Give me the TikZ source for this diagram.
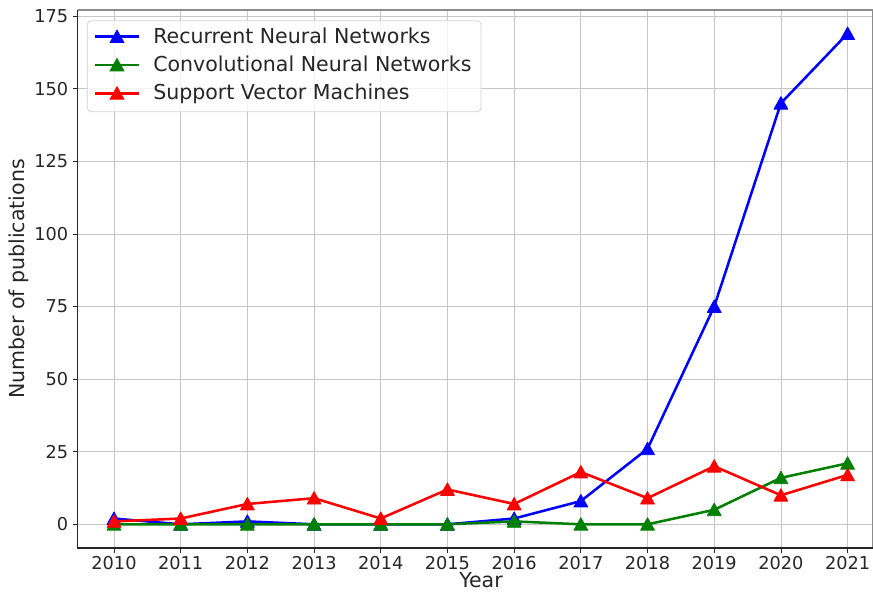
\documentclass[tikz,border=0pt]{standalone}
\usepackage{fontspec}
\setmainfont{DejaVu Sans}
\definecolor{rnn}{RGB}{0,0,255}
\definecolor{cnn}{RGB}{0,128,0}
\definecolor{svm}{RGB}{255,0,0}
\definecolor{txt}{RGB}{38,38,38}
\pgfdeclareplotmark{mtri}{%
  \pgfpathmoveto{\pgfqpoint{0pt}{0.95\pgfplotmarksize}}%
  \pgfpathlineto{\pgfqpoint{-\pgfplotmarksize}{-0.85\pgfplotmarksize}}%
  \pgfpathlineto{\pgfqpoint{\pgfplotmarksize}{-0.85\pgfplotmarksize}}%
  \pgfpathclose\pgfusepathqfillstroke}
\tikzset{
  gridline/.style={draw=black!22, line width=0.6pt},
  series/.style={draw=#1, line width=1.9pt, line join=round, mark=mtri, mark size=5.2pt,
    mark options={solid, fill=#1, draw=#1, line width=0.6pt}},
  legline/.style={draw=#1, line width=1.9pt},
  legmark/.style={draw=none, mark=mtri, mark size=5.2pt, mark options={fill=#1, draw=#1, line width=0.6pt}},
  ticklab/.style={font=\fontsize{13.3pt}{15pt}\selectfont, text=txt, inner sep=0pt},
  leglab/.style={font=\fontsize{15.4pt}{18pt}\selectfont, text=txt, inner sep=0pt, anchor=base west},
  axlab/.style={font=\fontsize{15.4pt}{18pt}\selectfont, text=txt, inner sep=0pt},
}
\begin{document}
\begin{tikzpicture}[x=0.75pt,y=-0.75pt]
\useasboundingbox (0,0) rectangle (873,592);
% grid
\foreach \i in {0,...,11} {
  \draw[gridline] ({114+\i*66.69},10) -- ({114+\i*66.69},548);
  \draw[txt, line width=0.6pt] ({114+\i*66.69},548) -- ({114+\i*66.69},553);
  \pgfmathtruncatemacro{\yr}{2010+\i}
  \node[ticklab, anchor=base] (xt\i) at ({114+\i*66.69},569.3) {\yr};
}
\foreach \v in {0,25,...,175} {
  \draw[gridline] (77.5,{524.3-\v*2.904}) -- (872.5,{524.3-\v*2.904});
  \draw[txt, line width=0.6pt] (72.5,{524.3-\v*2.904}) -- (77.5,{524.3-\v*2.904});
  \node[ticklab, anchor=east] (yt\v) at (68.5,{524.3-\v*2.904}) {\v};
}
% spines
\draw[black!45, line width=0.8pt] (77.5,10) -- (872.5,10) -- (872.5,548);
\draw[txt, line width=0.8pt] (77.5,10) -- (77.5,548) -- (872.5,548);
% series
\begin{scope}[shift={(114,524.3)}, x=0.75*66.69pt, y=0.75*2.904pt]
\draw[series=rnn] plot coordinates {(0,2) (1,0) (2,1) (3,0) (4,0) (5,0) (6,2) (7,8) (8,26) (9,75) (10,145) (11,169)};
\draw[series=cnn] plot coordinates {(0,0) (1,0) (2,0) (3,0) (4,0) (5,0) (6,1) (7,0) (8,0) (9,5) (10,16) (11,21)};
\draw[series=svm] plot coordinates {(0,1) (1,2) (2,7) (3,9) (4,2) (5,12) (6,7) (7,18) (8,9) (9,20) (10,10) (11,17)};
\end{scope}
% legend
\draw[draw=black!18, fill=white, fill opacity=0.8, rounded corners=3pt, line width=0.6pt] (87.3,20.7) rectangle (481,111.7);
\coordinate (la1) at (95,36.7);  \coordinate (lb1) at (139,36.7);
\coordinate (la2) at (95,65);    \coordinate (lb2) at (139,65);
\coordinate (la3) at (95,93.3);  \coordinate (lb3) at (139,93.3);
\draw[legline=rnn] (la1) -- (lb1);
\draw[legline=cnn] (la2) -- (lb2);
\draw[legline=svm] (la3) -- (lb3);
\draw[legmark=rnn] plot coordinates {(117,36.7)};
\draw[legmark=cnn] plot coordinates {(117,65)};
\draw[legmark=svm] plot coordinates {(117,93.3)};
\node[leglab] (l1) at (153,43.3) {Recurrent Neural Networks};
\node[leglab] (l2) at (153,71.6) {Convolutional Neural Networks};
\node[leglab] (l3) at (153,99.9) {Support Vector Machines};
% axis labels
\node[axlab, anchor=base, text depth=0pt] (xl) at (481,587.5) {Year};
\node[axlab, rotate=90] (yl) at (19,279) {Number of publications};
\end{tikzpicture}
\end{document}
